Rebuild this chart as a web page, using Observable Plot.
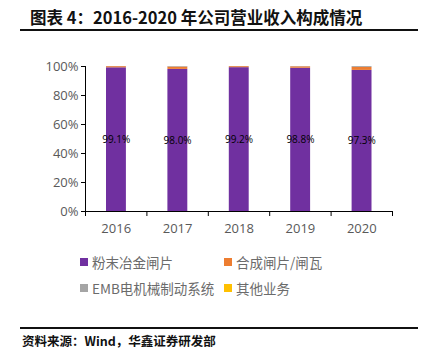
<!DOCTYPE html>
<html><head><meta charset="utf-8">
<script src="https://cdn.jsdelivr.net/npm/d3@7"></script>
<script src="https://cdn.jsdelivr.net/npm/@observablehq/plot@0.6"></script>
<style>
body{margin:0;background:#fff;width:427px;height:353px;position:relative;overflow:hidden;font-family:"Noto Sans CJK SC","Noto Sans",sans-serif;}
#title{position:absolute;left:30px;top:5px;font-size:16.5px;font-weight:bold;color:#111;white-space:pre;}
#tline{position:absolute;left:20px;top:29px;width:398px;height:2px;background:#111;}
#chart{position:absolute;left:0;top:50px;}
.leg{position:absolute;font-size:13.5px;color:#6b6b6b;display:flex;align-items:center;white-space:nowrap;}
.leg span.sw{display:inline-block;width:8px;height:8px;margin-right:4px;}
#bline{position:absolute;left:20px;top:327px;width:398px;height:2px;background:#111;}
#src{position:absolute;left:22px;top:331px;font-size:12.5px;font-weight:bold;color:#111;}
</style></head><body>
<div id="title">图表 4：2016-2020 年公司营业收入构成情况</div>
<div id="tline"></div>
<div id="chart"></div>
<div id="legend"></div>
<div id="bline"></div>
<div id="src">资料来源：Wind，华鑫证券研发部</div>
<script>
const years = [2016, 2017, 2018, 2019, 2020];
const seriesNames = ["粉末冶金闸片", "合成闸片/闸瓦", "EMB电机械制动系统", "其他业务"];
const powder = [99.1, 98.0, 99.2, 98.8, 97.3];
const synthetic = [0.8, 1.6, 0.7, 1.0, 2.1];
const emb = [0.1, 0.4, 0.1, 0.2, 0.6];
const other = [0.0, 0.0, 0.0, 0.0, 0.0];
const colors = ["#7030A0", "#ED7D31", "#A5A5A5", "#FFC000"];
const yTicks = [0, 20, 40, 60, 80, 100];

const seriesVals = [powder, synthetic, emb, other];
const rows = [];
years.forEach((yr, i) => {
  let acc = 0;
  seriesVals.forEach((vals, s) => {
    rows.push({year: yr, series: seriesNames[s], y1: acc, y2: acc + vals[i], value: vals[i]});
    acc += vals[i];
  });
});
const labels = years.map((yr, i) => ({year: yr, value: powder[i]}));
const bounds = [years[0] - 0.5, ...years.map(y => y + 0.5)];

const chart = Plot.plot({
  width: 427, height: 190,
  marginLeft: 85, marginRight: 35, marginTop: 16, marginBottom: 29,
  style: {fontFamily: "'Open Sans','Liberation Sans',sans-serif", fontSize: "12px", color: "#595959", background: "#fff"},
  x: {domain: [bounds[0], bounds[bounds.length - 1]]},
  y: {domain: [0, 100]},
  color: {domain: seriesNames, range: colors},
  marks: [
    Plot.rect(rows, {x1: d => d.year - 0.5, x2: d => d.year + 0.5, y1: "y1", y2: "y2", fill: "series", insetLeft: 21, insetRight: 20.5}),
    Plot.text(labels, {x: "year", y: d => d.value / 2, text: d => d.value.toFixed(1) + "%", fill: "#000", fontSize: 10, fontFamily: "'Open Sans',sans-serif"}),
    Plot.axisY({ticks: yTicks, tickFormat: d => d + "%", tickSize: 4, tickPadding: 3, label: null, stroke: "#000", fill: "#595959", fontSize: 13}),
    Plot.ruleX([bounds[0]], {stroke: "#000"}),
    Plot.ruleY([0], {stroke: "#000"}),
    Plot.axisX({ticks: bounds, tickFormat: () => "", tickSize: 5, stroke: "#000", label: null}),
    Plot.axisX({ticks: years, tickFormat: d => String(d), tickSize: 0, tickPadding: 12, label: null, fill: "#595959", fontSize: 13})
  ]
});
document.getElementById("chart").appendChild(chart);

const legPos = [[80, 252], [224, 252], [80, 278], [224, 278]];
const leg = document.getElementById("legend");
seriesNames.forEach((n, i) => {
  const d = document.createElement("div");
  d.className = "leg";
  d.style.left = legPos[i][0] + "px";
  d.style.top = legPos[i][1] + "px";
  d.innerHTML = `<span class="sw" style="background:${colors[i]}"></span>${n}`;
  leg.appendChild(d);
});
</script>
</body></html>
